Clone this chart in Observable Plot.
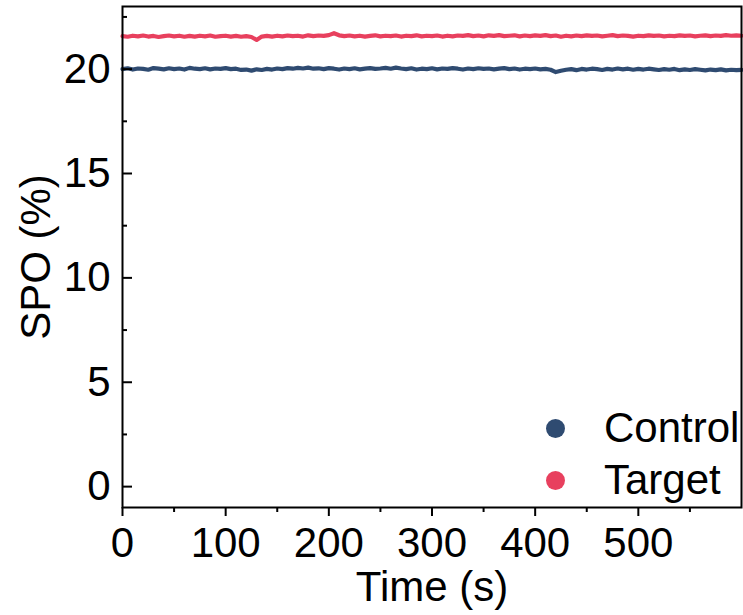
<!DOCTYPE html>
<html><head><meta charset="utf-8">
<script src="https://cdn.jsdelivr.net/npm/d3@7"></script>
<script src="https://cdn.jsdelivr.net/npm/@observablehq/plot@0.6"></script>
<style>
body{margin:0;background:#fff;font-family:"Liberation Sans",Arial,sans-serif;}
#wrap{position:relative;width:743px;height:615px;}
.legend{position:absolute;left:546px;top:402px;font-size:42px;color:#000;line-height:52px;}
.row{display:flex;align-items:center;height:52px;}
.sw{width:19px;height:19px;border-radius:50%;margin-right:39px;}
</style></head><body><div id="wrap"></div>
<script>
const time = [0,5,10,15,20,25,30,35,40,45,50,55,60,65,70,75,80,85,90,95,
100,105,110,115,120,125,130,135,140,145,150,155,160,165,170,175,180,185,190,195,
200,205,210,215,220,225,230,235,240,245,250,255,260,265,270,275,280,285,290,295,
300,305,310,315,320,325,330,335,340,345,350,355,360,365,370,375,380,385,390,395,
400,405,410,415,420,425,430,435,440,445,450,455,460,465,470,475,480,485,490,495,
500,505,510,515,520,525,530,535,540,545,550,555,560,565,570,575,580,585,590,595,600];
const control = [20.00,20.04,19.98,20.03,20.01,19.97,20.05,20.02,19.99,20.04,
20.00,20.03,19.98,20.06,20.02,20.00,20.04,19.99,20.03,20.01,
20.05,20.00,20.02,19.96,19.98,19.93,19.99,19.96,20.01,19.98,
20.03,20.00,20.05,20.02,20.06,20.03,20.07,20.02,20.04,20.00,
20.05,20.02,19.98,20.03,20.00,20.04,19.99,20.02,20.05,20.01,
20.03,20.06,20.02,20.07,20.03,20.00,20.04,19.98,20.02,20.00,
20.04,19.99,20.03,20.01,20.05,20.02,19.98,20.03,20.00,20.04,
20.01,20.03,19.99,20.02,20.05,20.00,20.03,19.98,20.02,20.00,
20.03,19.99,20.01,19.97,19.86,19.92,19.97,20.00,19.95,20.01,
19.98,20.02,20.00,19.96,20.01,19.98,20.03,19.99,20.02,19.97,
20.01,19.98,20.02,19.99,19.96,20.00,19.97,20.01,19.95,19.99,
19.96,20.00,19.97,19.94,19.98,19.95,19.99,19.94,19.97,19.95,19.96];
const target = [21.58,21.55,21.60,21.57,21.61,21.56,21.59,21.54,21.58,21.61,
21.57,21.60,21.55,21.59,21.56,21.60,21.57,21.61,21.55,21.58,
21.60,21.56,21.59,21.55,21.58,21.54,21.40,21.56,21.59,21.56,
21.60,21.57,21.61,21.58,21.60,21.56,21.62,21.58,21.61,21.59,
21.63,21.72,21.62,21.58,21.61,21.57,21.60,21.56,21.59,21.62,
21.57,21.60,21.58,21.61,21.56,21.60,21.58,21.62,21.57,21.60,
21.58,21.61,21.56,21.60,21.57,21.61,21.59,21.63,21.58,21.61,
21.57,21.62,21.59,21.63,21.58,21.60,21.62,21.57,21.61,21.58,
21.62,21.59,21.63,21.58,21.61,21.55,21.60,21.57,21.61,21.58,
21.62,21.59,21.61,21.57,21.60,21.63,21.58,21.61,21.59,21.56,
21.60,21.58,21.62,21.59,21.61,21.57,21.60,21.58,21.62,21.59,
21.61,21.57,21.60,21.62,21.58,21.61,21.59,21.63,21.60,21.62,21.60];
const seriesNames = ["Control", "Target"];
const seriesColors = ["#2f4b71", "#e8405e"];
const xMajor = [0,100,200,300,400,500];
const xMinor = [50,150,250,350,450,550];
const yMajor = [0,5,10,15,20];
const yMinor = [2.5,7.5,12.5,17.5,22.5];

const rows = [];
time.forEach((t,i)=>{
  rows.push({time:t, value:control[i], series:seriesNames[0]});
});
time.forEach((t,i)=>{
  rows.push({time:t, value:target[i], series:seriesNames[1]});
});

const chart = Plot.plot({
  width:743, height:615,
  marginLeft:122, marginRight:2, marginTop:6, marginBottom:108,
  style:{fontFamily:'"Liberation Sans", Arial, sans-serif', fontSize:"42px", background:"transparent", color:"#000"},
  x:{domain:[0,600]},
  y:{domain:[-1,23]},
  color:{domain:seriesNames, range:seriesColors},
  marks:[
    Plot.line(rows,{x:"time", y:"value", z:"series", stroke:"series", strokeWidth:4.2}),
    Plot.axisX({ticks:xMajor, tickSize:9, tickPadding:11, strokeWidth:2, fontSize:42, label:"Time (s)", labelAnchor:"center", labelOffset:93, labelArrow:"none"}),
    Plot.axisX({ticks:xMinor, tickSize:5, strokeWidth:2, fill:"none", label:null}),
    Plot.axisY({ticks:yMajor, tickSize:0, tickPadding:12, fontSize:42, label:"SPO (%)", labelAnchor:"center", labelOffset:102, labelArrow:"none"}),
    Plot.axisY({ticks:yMajor, tickSize:10, dx:10, strokeWidth:2, fill:"none", label:null}),
    Plot.axisY({ticks:yMinor, tickSize:5, dx:5, strokeWidth:2, fill:"none", label:null}),
    Plot.frame({stroke:"#000", strokeWidth:2})
  ]
});
const wrap = document.getElementById("wrap");
wrap.appendChild(chart);
const legend = document.createElement("div");
legend.className = "legend";
seriesNames.forEach((name,i)=>{
  const row = document.createElement("div");
  row.className = "row";
  const sw = document.createElement("span");
  sw.className = "sw";
  sw.style.background = seriesColors[i];
  const tx = document.createElement("span");
  tx.textContent = name;
  row.appendChild(sw); row.appendChild(tx);
  legend.appendChild(row);
});
wrap.appendChild(legend);
</script>
</body></html>
